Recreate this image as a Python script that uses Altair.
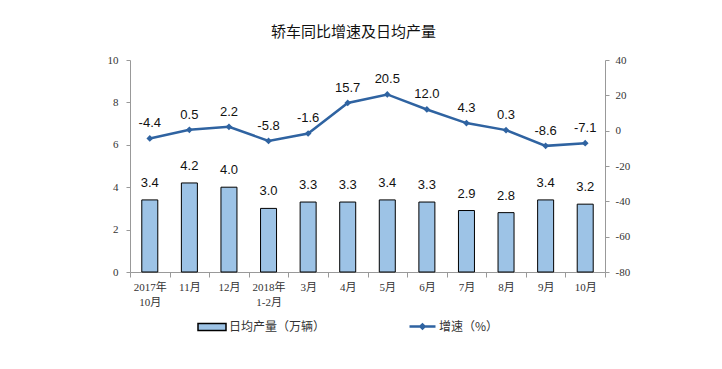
import altair as alt
import pandas as pd

cats = ["2017年\n10月", "11月", "12月", "2018年\n1-2月", "3月", "4月", "5月",
        "6月", "7月", "8月", "9月", "10月"]
production = [3.4, 4.2, 4.0, 3.0, 3.3, 3.3, 3.4, 3.3, 2.9, 2.8, 3.4, 3.2]
growth = [-4.4, 0.5, 2.2, -5.8, -1.6, 15.7, 20.5, 12.0, 4.3, 0.3, -8.6, -7.1]
series_names = ["日均产量（万辆）", "增速（%）"]

df = pd.DataFrame({
    "cat": cats,
    "prod": production,
    "growth": growth,
    "prod_lbl": [f"{v:.1f}" for v in production],
    "growth_lbl": [f"{v:.1f}" for v in growth],
    "s_bar": [series_names[0]] * len(cats),
    "s_line": [series_names[1]] * len(cats),
})

BAR = "#9DC3E6"
LINE = "#2F63A1"
AXIS = "#999999"
FONT_AX = "Liberation Serif, Noto Sans CJK SC"
FONT_CJK = "Noto Sans CJK SC"
FONT_NUM = "Liberation Sans"

x_enc = alt.X(
    "cat:N", sort=cats, title=None,
    scale=alt.Scale(paddingInner=0, paddingOuter=0),
    axis=alt.Axis(
        labelAngle=0, labelExpr="split(datum.label, '\\n')",
        labelFont=FONT_AX, labelFontSize=11, labelColor="#333333",
        domainColor=AXIS, tickColor=AXIS, tickBand="extent", tickSize=5,
        labelPadding=4, labelLineHeight=15, labelOverlap=False,
    ),
)

base = alt.Chart(df).encode(x=x_enc)

y_left = alt.Y(
    "prod:Q", title=None,
    scale=alt.Scale(domain=[0, 10], nice=False, zero=True),
    axis=alt.Axis(
        values=[0, 2, 4, 6, 8, 10], grid=False, orient="left",
        labelFont=FONT_AX, labelFontSize=11, labelColor="#333333",
        domainColor=AXIS, tickColor=AXIS, tickSize=4, labelPadding=8,
        labelOverlap=False,
    ),
)
y_right = alt.Y(
    "growth:Q", title=None,
    scale=alt.Scale(domain=[-80, 40], nice=False, zero=False),
    axis=alt.Axis(
        values=[-80, -60, -40, -20, 0, 20, 40], grid=False, orient="right",
        labelExpr="replace(datum.label, '\u2212', '-')",
        labelFont=FONT_AX, labelFontSize=11, labelColor="#333333",
        domainColor=AXIS, tickColor=AXIS, tickSize=4, labelPadding=6,
        labelOverlap=False,
    ),
)

bars = base.mark_bar(size=16, stroke="black", strokeWidth=1).encode(
    y=y_left,
    fill=alt.Fill(
        "s_bar:N",
        scale=alt.Scale(range=[BAR]),
        legend=alt.Legend(
            title=None, orient="none", legendX=67, legendY=252,
            symbolType="M-1,-0.25H1V0.25H-1Z", symbolSize=784,
            symbolStrokeColor="black", symbolStrokeWidth=1.5,
            labelFont=FONT_CJK, labelFontSize=12, labelColor="#333333",
            labelOffset=2,
        ),
    ),
)
bar_text = base.mark_text(
    dy=-10, font=FONT_NUM, fontSize=13, color="#111111", baseline="bottom"
).encode(y=y_left, text="prod_lbl:N")

line = base.mark_line(strokeWidth=2.5).encode(
    y=y_right,
    stroke=alt.Stroke(
        "s_line:N",
        scale=alt.Scale(range=[LINE]),
        legend=alt.Legend(
            title=None, orient="none", legendX=278, legendY=252,
            symbolType="M-1,0H1M-0.16,0L0,-0.16L0.16,0L0,0.16Z",
            symbolSize=676, symbolFillColor=LINE, symbolStrokeWidth=2.5,
            labelFont=FONT_CJK, labelFontSize=12, labelColor="#333333",
            labelOffset=2,
        ),
    ),
)
points = base.mark_point(shape="diamond", filled=True, size=45, color=LINE, opacity=1).encode(
    y=y_right
)
line_text = base.mark_text(
    dy=-8, font=FONT_NUM, fontSize=13, color="#111111", baseline="bottom"
).encode(y=y_right, text="growth_lbl:N")

left = alt.layer(bars, bar_text)
right = alt.layer(line, points, line_text)

chart = alt.layer(left, right).resolve_scale(
    y="independent", fill="independent", stroke="independent"
).properties(
    width=475, height=212,
    title=alt.TitleParams(
        "轿车同比增速及日均产量", font=FONT_CJK, fontSize=15, fontWeight="normal",
        color="#111111", anchor="middle", offset=14, dx=-14,
    ),
    autosize=alt.AutoSizeParams(type="none"),
    padding={"left": 122, "top": 52, "right": 100, "bottom": 80},
).configure_view(stroke=None)

chart.save("out.html", embed_options={"renderer": "svg", "actions": False})
